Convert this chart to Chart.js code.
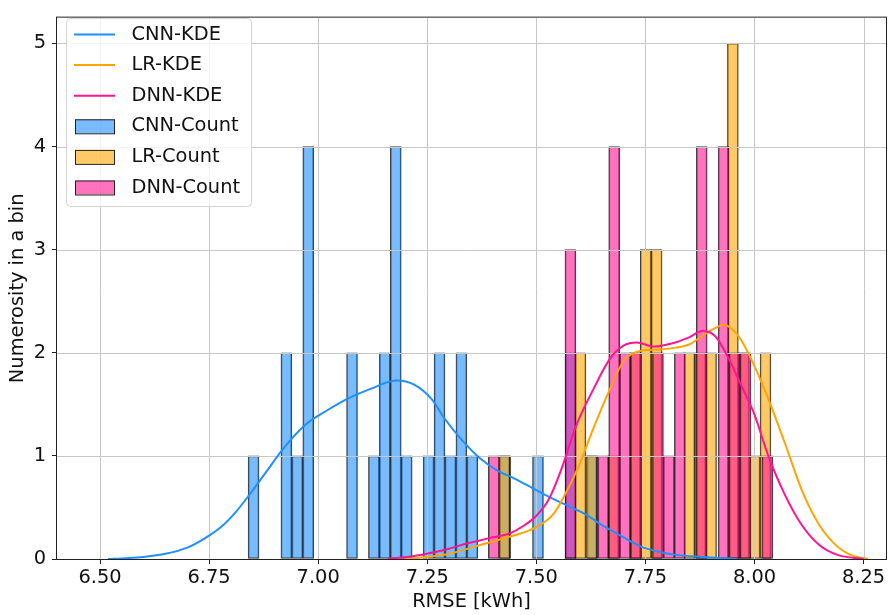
<!DOCTYPE html>
<html>
<head>
<meta charset="utf-8">
<script src="https://cdn.jsdelivr.net/npm/chart.js@4.4.1/dist/chart.umd.min.js"></script>
<style>
    html, body { margin: 0; padding: 0; background: #fff; }
    #wrap { width: 889px; height: 615px; }
</style>
</head>
<body>
<div id="wrap"><canvas id="rmseChart" width="889" height="615"></canvas></div>
<script>
//== DATA: histogram counts (each model has its own bins) ==
const cnnBinStart = 6.8394, cnnBinWidth = 0.02507;
const cnnCounts = [1, 0, 0, 2, 1, 4, 0, 0, 0, 2, 0, 1, 2, 4, 1, 0, 1, 2, 1, 2, 1, 0, 0, 1, 0, 0, 1, 0, 0, 2, 0, 1];

const lrBinStart = 7.414, lrBinWidth = 0.02495;
const lrCounts = [1, 0, 0, 0, 0, 0, 0, 2, 1, 0, 1, 0, 2, 3, 3, 0, 0, 2, 2, 2, 0, 5, 2, 1, 2];

const dnnBinStart = 7.390, dnnBinWidth = 0.02508;
const dnnCounts = [1, 0, 0, 0, 0, 0, 0, 3, 0, 0, 1, 4, 2, 2, 0, 2, 1, 2, 0, 4, 0, 4, 2, 2, 0, 1];

//== DATA: KDE curves (scaled to counts) ==
const cnnKdeX = [6.518, 6.56, 6.60, 6.65, 6.70, 6.74, 6.78, 6.81, 6.84, 6.88, 6.92, 6.97, 7.02, 7.07, 7.12, 7.18, 7.22, 7.26, 7.29, 7.33, 7.37, 7.41, 7.45, 7.49, 7.53, 7.57, 7.61, 7.65, 7.70, 7.74, 7.78, 7.82, 7.88, 7.96];
const cnnKdeY = [0.0, 0.008, 0.02, 0.05, 0.11, 0.20, 0.32, 0.45, 0.61, 0.84, 1.07, 1.30, 1.44, 1.56, 1.65, 1.73, 1.69, 1.55, 1.36, 1.15, 0.98, 0.86, 0.78, 0.69, 0.60, 0.52, 0.44, 0.33, 0.21, 0.12, 0.07, 0.04, 0.02, 0.0];

const lrKdeX = [7.20, 7.25, 7.30, 7.35, 7.40, 7.45, 7.50, 7.54, 7.57, 7.60, 7.63, 7.67, 7.70, 7.74, 7.78, 7.82, 7.85, 7.89, 7.93, 7.96, 7.99, 8.03, 8.07, 8.11, 8.15, 8.19, 8.22, 8.26];
const lrKdeY = [0.0, 0.02, 0.05, 0.11, 0.17, 0.23, 0.31, 0.44, 0.66, 0.93, 1.26, 1.66, 1.92, 2.02, 2.03, 2.05, 2.08, 2.19, 2.27, 2.18, 1.96, 1.57, 1.12, 0.65, 0.32, 0.12, 0.04, 0.0];

const dnnKdeX = [7.16, 7.22, 7.26, 7.30, 7.34, 7.37, 7.40, 7.44, 7.47, 7.50, 7.53, 7.56, 7.59, 7.63, 7.67, 7.70, 7.73, 7.77, 7.81, 7.85, 7.88, 7.91, 7.94, 7.97, 8.00, 8.03, 8.07, 8.11, 8.15, 8.19, 8.25];
const dnnKdeY = [0.0, 0.03, 0.06, 0.10, 0.15, 0.18, 0.21, 0.25, 0.32, 0.42, 0.59, 0.90, 1.28, 1.64, 1.95, 2.07, 2.10, 2.06, 2.09, 2.15, 2.21, 2.16, 1.95, 1.68, 1.40, 1.02, 0.62, 0.32, 0.13, 0.04, 0.0];

// axis limits
const xMin = 6.4014, xMax = 8.3014, xStep = 0.25;
const yMin = 0, yMax = 5.25, yStep = 1;

//== helpers ==
function histPoints(start, width, counts) {
    return counts.map((c, i) => ({ x: start + (i + 0.5) * width, y: c }));
}
function kdePoints(xs, ys) {
    return xs.map((x, i) => ({ x: x, y: ys[i] }));
}

Chart.defaults.font.family = 'DejaVu Sans';
Chart.defaults.font.size = 19.4;
Chart.defaults.color = '#111';

// grid goes above the bars but under the KDE lines (like matplotlib)
const gridUnderLines = {
    id: 'gridUnderLines',
    beforeDatasetsDraw(chart) { chart.$gridDone = false; },
    beforeDatasetDraw(chart, args) {
        if (chart.$gridDone || args.meta.type !== 'line') return;
        chart.$gridDone = true;
        const { ctx, chartArea: a, scales: { x, y } } = chart;
        ctx.save();
        ctx.strokeStyle = '#c8c8c8';
        ctx.lineWidth = 1;
        ctx.beginPath();
        x.ticks.forEach(t => {
            const p = Math.round(x.getPixelForValue(t.value)) + 0.5;
            ctx.moveTo(p, a.top); ctx.lineTo(p, a.bottom);
        });
        y.ticks.forEach(t => {
            const p = Math.round(y.getPixelForValue(t.value)) + 0.5;
            ctx.moveTo(a.left, p); ctx.lineTo(a.right, p);
        });
        ctx.stroke();
        ctx.restore();
    }
};

// black frame on all 4 sides
const frame = {
    id: 'frame',
    afterDatasetsDraw(chart) {
        const { ctx, chartArea: a } = chart;
        ctx.save();
        ctx.strokeStyle = '#222';
        ctx.lineWidth = 1;
        ctx.strokeRect(a.left - 0.5, a.top - 0.5, a.width + 1, a.height + 1);
        ctx.restore();
    }
};

// legend box in the upper left corner
const boxLegend = {
    id: 'boxLegend',
    afterDraw(chart) {
        const ctx = chart.ctx;
        const ds = chart.data.datasets;
        const bx = 66.5, by = 18.5, bw = 185, bh = 188, r = 4;
        ctx.save();
        ctx.beginPath();
        ctx.roundRect(bx, by, bw, bh, r);
        ctx.fillStyle = 'rgba(255,255,255,0.8)';
        ctx.fill();
        ctx.strokeStyle = '#d4d4d4';
        ctx.lineWidth = 1;
        ctx.stroke();

        ctx.font = '19.4px "DejaVu Sans"';
        ctx.textBaseline = 'middle';
        ctx.textAlign = 'left';
        ds.forEach((d, i) => {
            const rowY = 34.5 + i * 30.6;
            if (d.type === 'line') {
                ctx.strokeStyle = d.borderColor;
                ctx.lineWidth = 2;
                ctx.beginPath();
                ctx.moveTo(74, rowY); ctx.lineTo(115, rowY);
                ctx.stroke();
            } else {
                ctx.fillStyle = d.backgroundColor;
                ctx.fillRect(75, rowY - 7, 40, 14);
                ctx.strokeStyle = '#222';
                ctx.lineWidth = 1;
                ctx.strokeRect(75.5, rowY - 6.5, 39, 14);
            }
            ctx.fillStyle = '#111';
            ctx.fillText(d.label, 131.5, rowY);
        });
        ctx.restore();
    }
};

function barSet(label, points, color, axisId, order) {
    return {
        type: 'bar',
        label: label,
        data: points,
        backgroundColor: color,
        borderColor: 'rgba(0,0,0,0.75)',
        borderWidth: 1,
        borderSkipped: false,
        barPercentage: 1,
        categoryPercentage: 1,
        grouped: false,
        xAxisID: axisId,
        order: order
    };
}
function lineSet(label, points, color, order) {
    return {
        type: 'line',
        label: label,
        data: points,
        borderColor: color,
        borderWidth: 2,
        pointRadius: 0,
        fill: false,
        cubicInterpolationMode: 'monotone',
        xAxisID: 'x',
        order: order
    };
}

const hiddenX = { type: 'linear', display: false, offset: false, min: xMin, max: xMax };

new Chart(document.getElementById('rmseChart').getContext('2d'), {
    type: 'bar',
    data: {
        datasets: [
            lineSet('CNN-KDE', kdePoints(cnnKdeX, cnnKdeY), '#1E90FF', 3),
            lineSet('LR-KDE', kdePoints(lrKdeX, lrKdeY), '#FFA500', 2),
            lineSet('DNN-KDE', kdePoints(dnnKdeX, dnnKdeY), '#FF1493', 1),
            barSet('CNN-Count', histPoints(cnnBinStart, cnnBinWidth, cnnCounts), 'rgba(30,144,255,0.6)', 'x', 6),
            barSet('LR-Count', histPoints(lrBinStart, lrBinWidth, lrCounts), 'rgba(255,165,0,0.6)', 'xLR', 5),
            barSet('DNN-Count', histPoints(dnnBinStart, dnnBinWidth, dnnCounts), 'rgba(255,20,147,0.6)', 'xDNN', 4)
        ]
    },
    options: {
        responsive: false,
        animation: false,
        layout: { padding: { top: 7, right: 3, left: 0, bottom: 0 } },
        plugins: { legend: { display: false }, tooltip: { enabled: false } },
        scales: {
            x: {
                type: 'linear',
                offset: false,
                min: xMin, max: xMax,
                border: { display: false },
                grid: { offset: false, drawOnChartArea: false, drawTicks: true, tickLength: 5, tickColor: '#222' },
                ticks: {
                    stepSize: xStep, includeBounds: false, autoSkip: false, maxRotation: 0, padding: 2,
                    callback: v => v.toFixed(2)
                },
                title: { display: true, text: 'RMSE [kWh]', padding: { top: 0, bottom: 1 } },
                afterFit(scale) { scale.height = 56; }
            },
            xLR: hiddenX,
            xDNN: hiddenX,
            y: {
                min: yMin, max: yMax,
                border: { display: false },
                grid: { drawOnChartArea: false, drawTicks: true, tickLength: 5, tickColor: '#222' },
                ticks: { stepSize: yStep, includeBounds: false, padding: 6 },
                title: { display: true, text: 'Numerosity in a bin', padding: { top: 6, bottom: 0 } },
                afterFit(scale) { scale.width = 57; }
            }
        }
    },
    plugins: [gridUnderLines, frame, boxLegend]
});
</script>
</body>
</html>
